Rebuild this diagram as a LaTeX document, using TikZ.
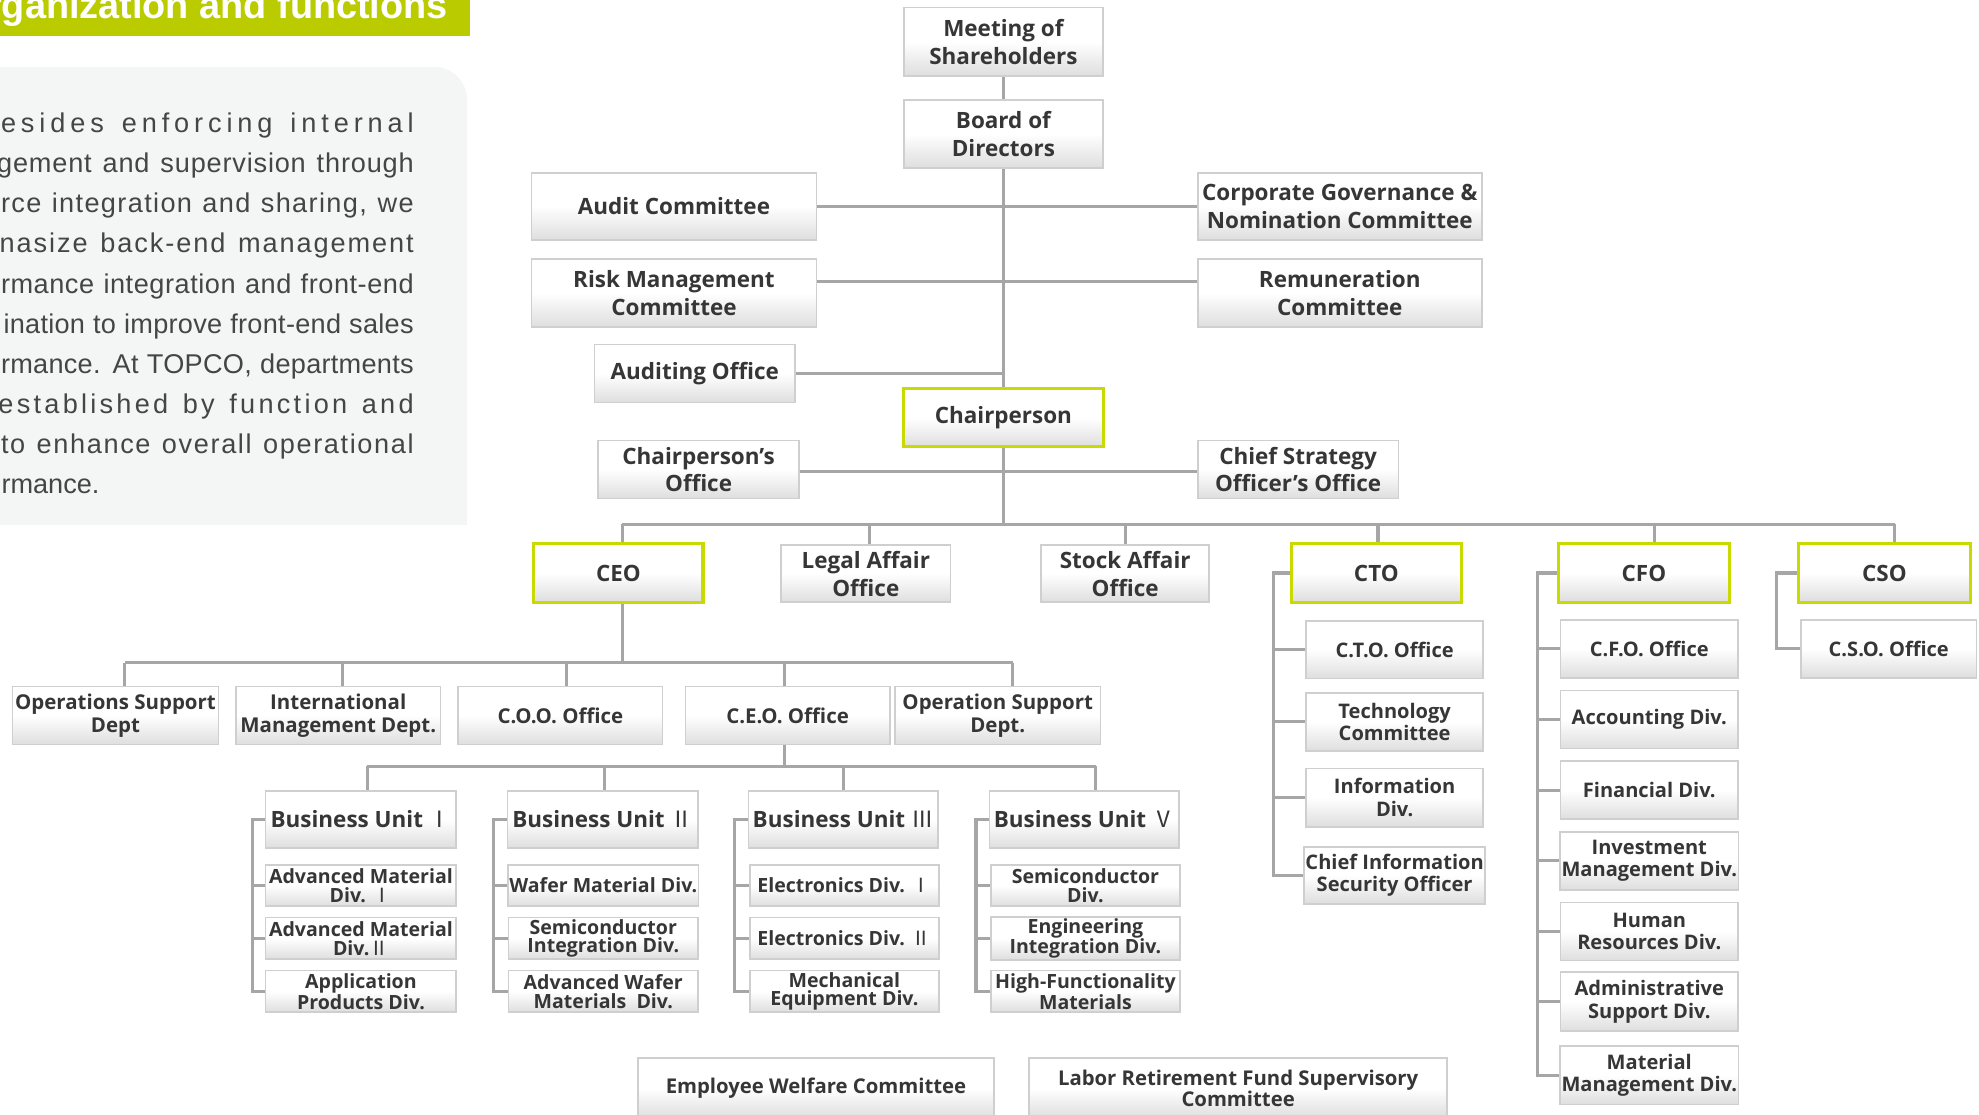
\documentclass[tikz,border=0pt]{standalone}
\usepackage{fontspec}
\setmainfont{Open Sans}
\newfontfamily\parfont{Liberation Sans}
\newfontfamily\cjk{Noto Sans CJK SC}
\usetikzlibrary{backgrounds}
\definecolor{linegray}{HTML}{A6A6A6}
\definecolor{boxborder}{HTML}{CFCFCF}
\definecolor{boxbot}{HTML}{DEDEDE}
\definecolor{limeb}{HTML}{C9DA00}
\definecolor{titlegreen}{HTML}{BACC00}
\definecolor{parbg}{HTML}{F4F6F5}
\definecolor{partext}{HTML}{454545}
\definecolor{txt}{HTML}{363636}
\newcommand\rn[1]{{\cjk\mdseries #1}}
\newcommand\obox[7][box]{%
  \pgfmathsetmacro\obw{#5-#3}%
  \pgfmathsetmacro\obh{#6-#4}%
  \pgfmathsetmacro\obx{(#3+#5)/2}%
  \pgfmathsetmacro\oby{(#4+#6)/2}%
  \node[#1,minimum width=\obw pt,minimum height=\obh pt] (#2) at (\obx,\oby) {#7};}
\newcommand\pline[5]{%
  \pgfmathsetmacro\plw{328-#3}%
  \node[anchor=base east,inner sep=0pt,text=partext] (#1) at (328,#2)
    {\parfont\fontsize{21.5}{26}\selectfont\addfontfeatures{LetterSpace=#4}\makebox[\plw pt][s]{#5}};}
\tikzset{
  box/.style={draw=boxborder,line width=1.3pt,top color=white,bottom color=boxbot,middle color=white,
    inner sep=1pt,outer sep=0pt,align=center,text=txt,font=\bfseries\fontsize{17.8}{22}\selectfont},
  gbox/.style={box,draw=limeb,line width=2.4pt},
  fmid/.style={font=\bfseries\fontsize{16.2}{18}\selectfont},
  fsub/.style={font=\bfseries\fontsize{15.5}{15}\selectfont},
  fside/.style={font=\bfseries\fontsize{15.9}{18}\selectfont},
  fbot/.style={font=\bfseries\fontsize{16.1}{17}\selectfont},
  conn/.style={draw=linegray,line width=2.4pt}
}
\begin{document}
\begin{tikzpicture}[x=1pt,y=-1pt]
\useasboundingbox (0,0) rectangle (1568,883);
\clip (0,0) rectangle (1568,883);
% title bar
\fill[titlegreen] (-5,-5) rectangle (372,28.5);
\node[anchor=base east,inner sep=0pt,text=white,font=\parfont\bfseries\fontsize{30}{30}\selectfont] (title) at (355,15) {Organization and functions};
% paragraph panel
\fill[parbg] (-30,416) -- (-30,53) -- (344,53) .. controls (358.4,53) and (370,64.6) .. (370,79) -- (370,416) -- cycle;
\pline{p1}{105}{1}{18}{esides enforcing internal}
\pline{p2}{136.8}{-2}{3}{gement and supervision through}
\pline{p3}{168.6}{1}{5}{rce integration and sharing, we}
\pline{p4}{200.4}{0}{7}{nasize back-end management}
\pline{p5}{232.2}{1}{2}{rmance integration and front-end}
\pline{p6}{264}{3}{1}{ination to improve front-end sales}
\pline{p7}{295.8}{1}{1}{rmance. At TOPCO, departments}
\pline{p8}{327.6}{-1}{12}{established by function and}
\pline{p9}{359.4}{1}{6}{to enhance overall operational}
\node[anchor=base west,inner sep=0pt,text=partext,font=\parfont\fontsize{21.5}{26}\selectfont] (p10) at (1,391.2) {rmance.};
% top level
\obox{meet}{716}{6}{874}{60}{Meeting of\\Shareholders}
\obox{board}{716}{79}{874}{133}{Board of\\Directors}
\obox{audit}{421}{137}{647}{190}{Audit Committee}
\obox{cg}{949}{137}{1174}{190}{Corporate Governance \&\\Nomination Committee}
\obox{risk}{421}{205}{647}{259}{Risk Management\\Committee}
\obox{rem}{949}{205}{1174}{259}{Remuneration\\Committee}
\obox{audo}{471}{273}{630}{319}{Auditing Office}
\obox[gbox]{chair}{716}{308}{874}{354}{Chairperson}
\obox{cpo}{474}{349}{633}{395}{Chairperson’s\\Office}
\obox{cstr}{949}{349}{1108}{395}{Chief Strategy\\Officer’s Office}
\obox[gbox]{ceo}{423}{431}{557}{477}{CEO}
\obox{legal}{619}{432}{753}{477}{Legal Affair\\Office}
\obox{stock}{825}{432}{958}{477}{Stock Affair\\Office}
\obox[gbox]{cto}{1023}{431}{1158}{477}{CTO}
\obox[gbox]{cfo}{1235}{431}{1370}{477}{CFO}
\obox[gbox]{cso}{1425}{431}{1561}{477}{CSO}
% CEO children
\obox[box,fmid]{ops}{10}{544}{173}{590}{Operations Support\\Dept}
\obox[box,fmid]{intl}{187}{544}{349}{590}{International\\Management Dept.}
\obox[box,fmid]{coo}{363}{544}{525}{590}{C.O.O. Office}
\obox[box,fmid]{ceoo}{543}{544}{705}{590}{C.E.O. Office}
\obox[box,fmid]{opsup}{709}{544}{872}{590}{Operation Support\\Dept.}
% business units
\obox{bu1}{210.5}{626.5}{361.5}{672}{Business Unit \rn{Ⅰ}}
\obox{bu2}{402}{626.5}{553}{672}{Business Unit \rn{Ⅱ}}
\obox{bu3}{593}{626.5}{743}{672}{Business Unit \rn{Ⅲ}}
\obox{bu5}{784}{626.5}{934}{672}{Business Unit \rn{Ⅴ}}
\obox[box,fsub]{a1}{210.5}{685.4}{361.5}{718}{Advanced Material\\Div. \rn{Ⅰ}}
\obox[box,fsub]{a2}{210.5}{727}{361.5}{760}{Advanced Material\\Div.\rn{Ⅱ}}
\obox[box,fsub]{a3}{210.5}{769}{361.5}{802}{Application\\Products Div.}
\obox[box,fsub]{b1}{403}{685.4}{553}{718}{Wafer Material Div.}
\obox[box,fsub]{b2}{403}{727}{553}{760}{Semiconductor\\Integration Div.}
\obox[box,fsub]{b3}{403}{769}{553}{802}{Advanced Wafer\\Materials~ Div.}
\obox[box,fsub]{c1}{594}{685.4}{744}{718}{Electronics Div. \rn{Ⅰ}}
\obox[box,fsub]{c2}{594}{727}{744}{760}{Electronics Div. \rn{Ⅱ}}
\obox[box,fsub]{c3}{594}{769}{744}{802}{Mechanical\\Equipment Div.}
\obox[box,fsub]{d1}{785}{685.4}{935}{718}{Semiconductor\\Div.}
\obox[box,fsub]{d2}{785}{727}{935}{760}{Engineering\\Integration Div.}
\obox[box,fsub]{d3}{785}{769}{935}{802}{High-Functionality\\Materials}
% CTO subs
\obox[box,fside]{t1}{1035}{492}{1175}{537.5}{C.T.O. Office}
\obox[box,fside]{t2}{1035}{549}{1175}{595}{Technology\\Committee}
\obox[box,fside]{t3}{1035}{609}{1175}{655}{Information\\Div.}
\obox[box,fside]{t4}{1035}{671}{1175}{716}{Chief Information\\Security Officer}
% CFO subs
\obox[box,fside]{f1}{1236.5}{491}{1377}{537}{C.F.O. Office}
\obox[box,fside]{f2}{1236.5}{547}{1377}{593}{Accounting Div.}
\obox[box,fside]{f3}{1236.5}{603}{1377}{649}{Financial Div.}
\obox[box,fside]{f4}{1236.5}{659}{1377}{705}{Investment\\Management Div.}
\obox[box,fside]{f5}{1236.5}{715}{1377}{761}{Human\\Resources Div.}
\obox[box,fside]{f6}{1236.5}{770}{1377}{817}{Administrative\\Support Div.}
\obox[box,fside]{f7}{1236.5}{829}{1377}{875}{Material\\Management Div.}
% CSO sub
\obox[box,fside]{s1}{1427}{491}{1566}{537}{C.S.O. Office}
% bottom committees
\obox[box,fbot]{ewc}{505.5}{838.5}{787.5}{886}{Employee Welfare Committee}
\obox[box,fbot]{lrf}{815.5}{838.5}{1146.5}{886}{Labor Retirement Fund Supervisory\\Committee}
% connectors
\coordinate (bus) at (0,415.5);
\coordinate (cbus) at (0,525);
\coordinate (bbus) at (0,607);
\begin{scope}[on background layer]
\draw[conn] (meet.south) -- (board.north);
\draw[conn] (board.south) -- (chair.north);
\draw[conn] (audit.east) -- (cg.west);
\draw[conn] ([yshift=9pt]risk.east) -- ([yshift=9pt]rem.west);
\draw[conn] (audo.east) -- (audo.east -| board.south);
\draw[conn] ([yshift=-1.5pt]cpo.east) -- ([yshift=-1.5pt]cstr.west);
\draw[conn] (chair.south) -- (chair.south |- bus);
\draw[conn] ([xshift=3pt]ceo.north |- bus) -- ([xshift=8.3pt]cso.north |- bus);
\foreach \n/\s in {ceo/3,legal/3,stock/0.5,cto/1.3,cfo/8.7,cso/8.3}
  \draw[conn] ([xshift=\s pt]\n.north) -- ([xshift=\s pt]\n.north |- bus);
\draw[conn] ([xshift=3pt]ceo.south) -- ([xshift=3pt]ceo.south |- cbus);
\draw[conn] ([xshift=7.5pt]ops.north |- cbus) -- ([xshift=12pt]opsup.north |- cbus);
\foreach \n/\s in {ops/7.5,intl/3.7,coo/4.5,ceoo/-2.6,opsup/12}
  \draw[conn] ([xshift=\s pt]\n.north) -- ([xshift=\s pt]\n.north |- cbus);
\draw[conn] ([xshift=-2.6pt]ceoo.south) -- ([xshift=-2.6pt]ceoo.south |- bbus);
\draw[conn] ([xshift=5pt]bu1.north |- bbus) -- ([xshift=9pt]bu5.north |- bbus);
\foreach \n/\s in {bu1/5,bu2/1.5,bu3/0,bu5/9}
  \draw[conn] ([xshift=\s pt]\n.north) -- ([xshift=\s pt]\n.north |- bbus);
% brackets
\foreach \h/\p/\q/\r in {bu1/a1/a2/a3,bu2/b1/b2/b3,bu3/c1/c2/c3,bu5/d1/d2/d3}{
  \draw[conn] (\h.west) -- ++(-10.7,0) |- (\r.west);
  \draw[conn] (\p.west) -- ++(-10.7,0);
  \draw[conn] (\q.west) -- ++(-10.7,0);
}
\draw[conn] (cto.west) -- ++(-14,0) |- (t4.west);
\foreach \n in {t1,t2,t3} \draw[conn] (\n.west) -- ++(-26.2,0);
\draw[conn] (cfo.west) -- ++(-17,0) |- (f7.west);
\foreach \n in {f1,f2,f3,f4,f5,f6} \draw[conn] (\n.west) -- ++(-18.7,0);
\draw[conn] (cso.west) -- ++(-17.7,0) |- (s1.west);
\end{scope}
\end{tikzpicture}
\end{document}
